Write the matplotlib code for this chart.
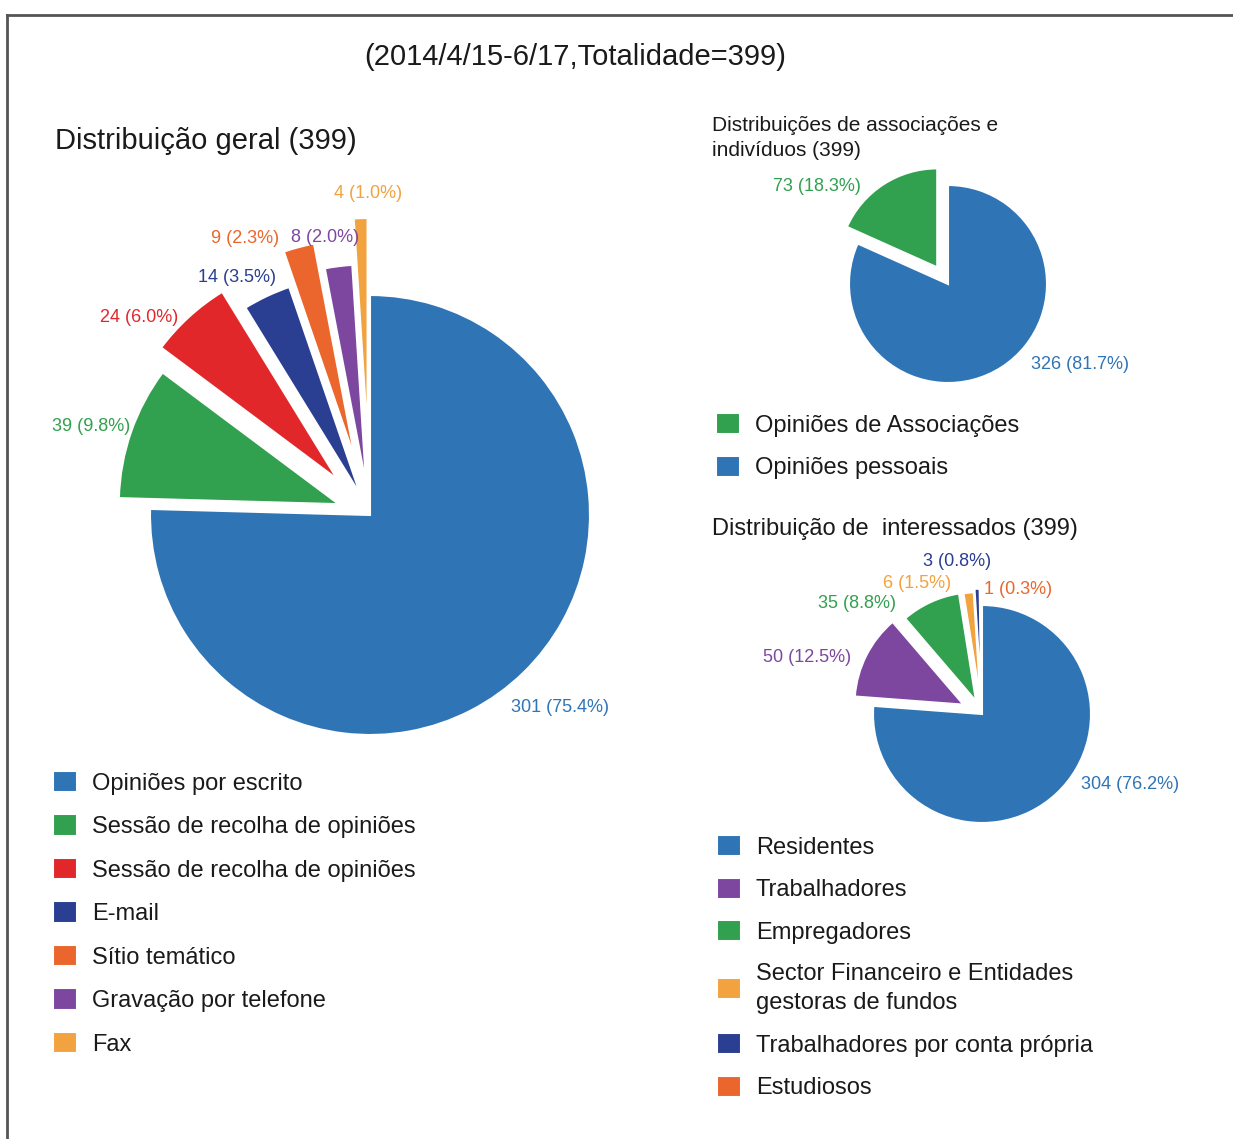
import matplotlib
matplotlib.use('Agg')
import matplotlib.pyplot as plt
import numpy as np
from matplotlib.lines import Line2D

plt.rcParams['font.family'] = ['Liberation Sans', 'DejaVu Sans']

# ---------------- data ----------------
total = 399
canal_labels = ['Opiniões por escrito', 'Sessão de recolha de opiniões',
                'Sessão de recolha de opiniões', 'E-mail', 'Sítio temático',
                'Gravação por telefone', 'Fax']
canal_values = [301, 39, 24, 14, 9, 8, 4]

tipo_labels = ['Opiniões de Associações', 'Opiniões pessoais']
tipo_values = [73, 326]

inter_labels = ['Residentes', 'Trabalhadores', 'Empregadores',
                'Sector Financeiro e Entidades\ngestoras de fundos',
                'Trabalhadores por conta própria', 'Estudiosos']
inter_values = [304, 50, 35, 6, 3, 1]

main_title = '(2014/4/15-6/17,Totalidade=399)'
title1 = 'Distribuição geral (399)'
title2 = 'Distribuições de associações e\nindivíduos (399)'
title3 = 'Distribuição de  interessados (399)'

# ---------------- style ----------------
BLUE = '#2F74B5'
GREEN = '#31A04F'
RED = '#E2272B'
NAVY = '#2A3E92'
ORANGE = '#EB662C'
PURPLE = '#7E479F'
YELLOW = '#F2A23E'

canal_colors = [BLUE, GREEN, RED, NAVY, ORANGE, PURPLE, YELLOW]
tipo_colors = [GREEN, BLUE]
inter_colors = [BLUE, PURPLE, GREEN, YELLOW, NAVY, ORANGE]

canal_explode = [0, 0.15, 0.22, 0.10, 0.26, 0.14, 0.35]
tipo_explode = [0.2, 0]
inter_explode = [0, 0.19, 0.13, 0.12, 0.15, 0.16]

canal_lab_r = [1.23, 1.33, 1.38, 1.24, 1.38, 1.28, 1.46]
canal_lab_da = [0.4, 1.5, 7, 4, 9.5, 2, -1.4]
tipo_lab_r = [1.65, 1.56]
tipo_lab_da = [20.6, 25.6]
inter_lab_r = [1.51, 1.69, 1.53, 1.34, 1.42, 1.19]
inter_lab_da = [21.6, 8.9, 23.9, 20.1, 7, -16.5]

W, H = 1233, 1139
fig = plt.figure(figsize=(W / 100, H / 100), dpi=100)


def pie_axes(cx, cy, r, h):
    ax = fig.add_axes([(cx - h * r) / W, (H - cy - h * r) / H,
                       2 * h * r / W, 2 * h * r / H])
    return ax


def finish(ax, h):
    ax.set_xlim(-h, h)
    ax.set_ylim(-h, h)
    ax.set_aspect('equal')
    ax.set_axis_off()


def add_labels(ax, wedges, values, colors, dist, dang, fs=13):
    for w, v, c, f, da in zip(wedges, values, colors, dist, dang):
        mid = np.deg2rad((w.theta1 + w.theta2) / 2 + da)
        ax.text(f * np.cos(mid), f * np.sin(mid),
                f"{v} ({v / total * 100:.1f}%)", color=c, fontsize=fs,
                ha='center', va='center')


wp = dict(edgecolor='white', linewidth=1.5)

# main pie
h1 = 1.9
ax1 = pie_axes(370, 515, 220, h1)
w1, _ = ax1.pie(canal_values, colors=canal_colors, explode=canal_explode,
                startangle=90, counterclock=False, wedgeprops=wp)
add_labels(ax1, w1, canal_values, canal_colors, canal_lab_r, canal_lab_da)
finish(ax1, h1)

# top right pie
h2 = 2.0
ax2 = pie_axes(948, 284, 99, h2)
w2, _ = ax2.pie(tipo_values, colors=tipo_colors, explode=tipo_explode,
                startangle=90, counterclock=True, wedgeprops=wp)
add_labels(ax2, w2, tipo_values, tipo_colors, tipo_lab_r, tipo_lab_da)
finish(ax2, h2)

# bottom right pie
h3 = 2.0
ax3 = pie_axes(982, 714, 109, h3)
w3, _ = ax3.pie(inter_values, colors=inter_colors, explode=inter_explode,
                startangle=90, counterclock=False, wedgeprops=wp)
add_labels(ax3, w3, inter_values, inter_colors, inter_lab_r, inter_lab_da)
finish(ax3, h3)

# titles
fig.text(575 / W, 1 - 57 / H, main_title, fontsize=21, ha='center', va='center',
         color='#1a1a1a')
fig.text(55 / W, 1 - 141 / H, title1, fontsize=21, ha='left', va='center',
         color='#1a1a1a')
fig.text(712 / W, 1 - 138 / H, title2, fontsize=15, ha='left', va='center',
         linespacing=1.4, color='#1a1a1a')
fig.text(712 / W, 1 - 529 / H, title3, fontsize=17, ha='left', va='center',
         color='#1a1a1a')

# legends
leg_kw = dict(loc='upper left', frameon=False, fontsize=17, handlelength=1.0,
              handleheight=1.0, handletextpad=0.64, borderpad=0,
              borderaxespad=0, labelcolor='#1a1a1a')
fig.legend(w1, canal_labels, bbox_to_anchor=(53 / W, 1 - 771 / H),
           labelspacing=0.84, **leg_kw)
fig.legend(w2, tipo_labels, bbox_to_anchor=(716 / W, 1 - 413 / H),
           labelspacing=0.8, **leg_kw)
leg3 = fig.legend(w3, inter_labels, bbox_to_anchor=(717 / W, 1 - 835 / H),
                  labelspacing=0.8, **leg_kw)
for t in leg3.get_texts():
    t.set_linespacing(1.45)

# frame lines
fig.add_artist(Line2D([7 / W, 1], [1 - 15 / H, 1 - 15 / H], color='#555555', lw=2))
fig.add_artist(Line2D([7 / W, 7 / W], [0, 1 - 15 / H], color='#555555', lw=2))

fig.savefig('out.png', dpi=100, facecolor='white')
